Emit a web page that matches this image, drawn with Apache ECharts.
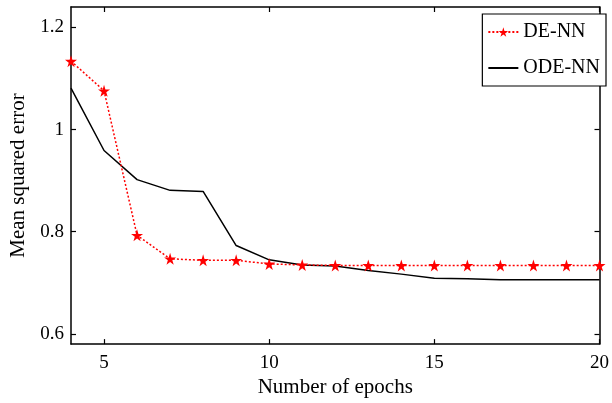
<!DOCTYPE html>
<html><head><meta charset="utf-8">
<script src="https://cdn.jsdelivr.net/npm/echarts@6/dist/echarts.min.js"></script>
<style>html,body{margin:0;padding:0;background:#fff}#c{width:612px;height:403px}</style>
</head><body><div id="c"></div>
<script>
const epochs = [4,5,6,7,8,9,10,11,12,13,14,15,16,17,18,19,20];
const deNN = [1.134,1.076,0.793,0.747,0.744,0.744,0.737,0.735,0.734,0.734,0.734,0.734,0.734,0.734,0.734,0.734,0.734];
const odeNN = [1.081,0.959,0.902,0.881,0.879,0.773,0.745,0.735,0.733,0.724,0.717,0.709,0.708,0.706,0.706,0.706,0.706];
const xTicks = [5,10,15,20];
const yTicks = [0.6,0.8,1,1.2];
const font = 'Liberation Serif';
const chart = echarts.init(document.getElementById('c'));
const pair = a => epochs.map((e,i)=>[e,a[i]]);
const axLine = {show:true, onZero:false, lineStyle:{color:'#000', width:1.5}};
chart.setOption({
  animation:false,
  grid:{left:69, right:3, top:7, bottom:57},
  legend:{
    right:6, top:14, orient:'vertical', backgroundColor:'#fff',
    borderColor:'#000', borderWidth:1.2, padding:[8,6,8,5], itemGap:16,
    itemWidth:30, itemHeight:12,
    textStyle:{fontFamily:font, fontSize:20, color:'#000'},
    data:[{name:'DE-NN'},{name:'ODE-NN', itemStyle:{opacity:0}}]
  },
  xAxis:[{
    type:'value', min:4, max:20, position:'bottom',
    name:'Number of epochs', nameLocation:'middle', nameGap:32,
    nameTextStyle:{fontFamily:font, fontSize:21, color:'#000'},
    axisLine:axLine,
    axisTick:{show:true, inside:true, length:5, customValues:xTicks, lineStyle:{color:'#000', width:1.2}},
    axisLabel:{customValues:xTicks, fontFamily:font, fontSize:19, color:'#000', margin:9},
    splitLine:{show:false}
  },{
    type:'value', min:4, max:20, position:'top',
    axisLine:axLine,
    axisTick:{show:true, inside:true, length:5, customValues:xTicks, lineStyle:{color:'#000', width:1.2}},
    axisLabel:{show:false}, splitLine:{show:false}
  }],
  yAxis:[{
    type:'value', min:0.58, max:1.24, position:'left',
    name:'Mean squared error', nameLocation:'middle', nameGap:42, nameRotate:90,
    nameTextStyle:{fontFamily:font, fontSize:21, color:'#000'},
    axisLine:axLine,
    axisTick:{show:true, inside:true, length:5, customValues:yTicks, lineStyle:{color:'#000', width:1.2}},
    axisLabel:{customValues:yTicks, fontFamily:font, fontSize:19, color:'#000', margin:7},
    splitLine:{show:false}
  },{
    type:'value', min:0.58, max:1.24, position:'right',
    axisLine:axLine,
    axisTick:{show:true, inside:true, length:5, customValues:yTicks, lineStyle:{color:'#000', width:1.2}},
    axisLabel:{show:false}, splitLine:{show:false}
  }],
  series:[{
    name:'DE-NN', type:'line', data:pair(deNN),
    symbol:'path://M50,0 L61,35 L98,35 L68,57 L79,91 L50,70 L21,91 L32,57 L2,35 L39,35 Z',
    symbolSize:12, showSymbol:true,
    lineStyle:{color:'#ff0000', width:1.5, type:[2,2]},
    itemStyle:{color:'#ff0000'}, z:3
  },{
    name:'ODE-NN', type:'line', data:pair(odeNN),
    symbol:'none', lineStyle:{color:'#000', width:1.5},
    itemStyle:{color:'#000'}, z:2
  }]
});
</script></body></html>
